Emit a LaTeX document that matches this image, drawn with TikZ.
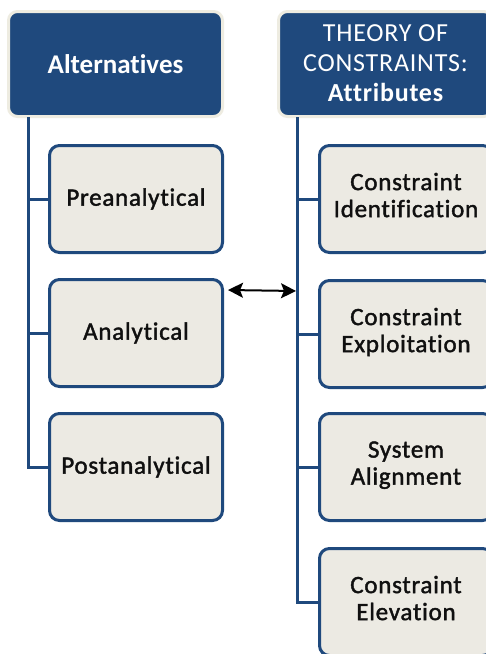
\documentclass[tikz,border=0pt]{standalone}
\usepackage{fontspec}
\setmainfont{Carlito}[Ligatures={NoCommon}]
\newfontfamily\spacedfont{Carlito}[Ligatures={NoCommon},LetterSpace=3]
\newfontfamily\boxfont{Carlito}[Ligatures={NoCommon},LetterSpace=3,FakeBold=1.6]
\usetikzlibrary{arrows.meta}
\definecolor{navy}{HTML}{1F497D}
\definecolor{cream}{HTML}{EEECE1}
\definecolor{boxfill}{HTML}{ECEAE3}
\definecolor{ink}{HTML}{101010}
% fixed depth for the last line of two-line labels
\newcommand{\lowstrut}{\rule[-8pt]{0pt}{8pt}}

\begin{document}
\begin{tikzpicture}[x=1pt,y=-1pt,
  hdr/.style={draw=cream, line width=3pt, fill=navy, rounded corners=9pt,
    minimum width=214pt, minimum height=105pt, text=white, align=center, inner sep=0pt},
  item/.style={draw=navy, line width=3pt, fill=boxfill, rounded corners=10pt,
    minimum width=173pt, minimum height=107pt, align=center, inner sep=0pt,
    font=\boxfont\fontsize{25}{27}\selectfont, text=ink},
  link/.style={draw=navy, line width=3pt},
  twoway/.style={draw=black, line width=2pt,
    {Stealth[length=15pt,width=15pt,inset=3pt]}-{Stealth[length=15pt,width=15pt,inset=3pt]}}]
\useasboundingbox (0,0) rectangle (486,654);
\clip (0,0) rectangle (486,654);
\fill[white] (0,0) rectangle (486,654);

% column headers
\node[hdr, font=\fontsize{27}{30}\selectfont\bfseries] (alt) at (115.5,64) {Alternatives};
\node[hdr, font=\spacedfont\fontsize{26}{30}\selectfont] (toc) at (385.5,64)
  {\raisebox{2pt}{THEORY OF}\\\raisebox{2pt}{CONSTRAINTS:}\\\raisebox{2pt}{\bfseries Attributes}};

% left column
\node[item] (pre)  at (136,199) {Preanalytical};
\node[item] (ana)  at (136,333) {Analytical};
\node[item] (post) at (136,467) {Postanalytical};

% right column
\node[item] (cid) at (406,199) {Constraint\\Identification\lowstrut};
\node[item] (cex) at (406,334) {Constraint\\Exploitation\lowstrut};
\node[item] (sal) at (406,467) {System\\Alignment\lowstrut};
\node[item] (cel) at (406,602) {Constraint\\Elevation\lowstrut};

% trunks
\coordinate (lt) at (28,117);
\coordinate (rt) at (297,117);
\draw[link] (lt) |- (pre.west);
\draw[link] (lt) |- (ana.west);
\draw[link] (lt) |- (post.west);
\draw[link] (rt) |- (cid.west);
\draw[link] (rt) |- (cex.west);
\draw[link] (rt) |- (sal.west);
\draw[link] (rt) |- (cel.west);

% link between the two columns
\coordinate (tk) at (296,291);
\draw[twoway] ([xshift=4pt,yshift=-12pt]ana.north east) -- (tk);
\end{tikzpicture}
\end{document}
